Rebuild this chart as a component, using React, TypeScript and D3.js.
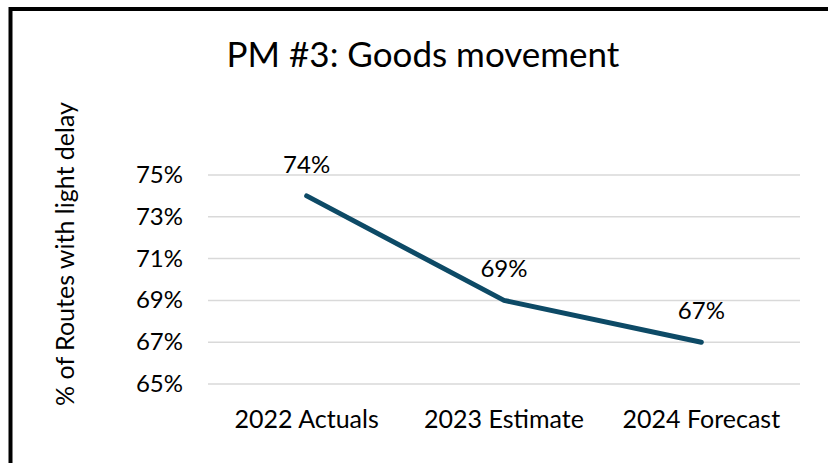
import React from "react";
import * as d3 from "d3";

const categories = ["2022 Actuals", "2023 Estimate", "2024 Forecast"];
const values = [74, 69, 67];
const yTicks = [65, 67, 69, 71, 73, 75];
const title = "PM #3: Goods movement";
const yTitle = "% of Routes with light delay";

const W = 828;
const H = 463;
const FONT = "Lato, 'Open Sans', sans-serif";

export default function App() {
  const x = d3.scaleBand<string>().domain(categories).range([208, 800]);
  const y = d3.scaleLinear().domain([65, 75]).range([384, 175]);
  const cx = (i: number) => (x(categories[i]) as number) + x.bandwidth() / 2;
  const line = d3
    .line<number>()
    .x((_, i) => cx(i))
    .y((d) => y(d));

  return (
    <div style={{ position: "fixed", left: 0, top: 0 }}>
      <svg width={W} height={H} style={{ display: "block", background: "#fff" }}>
        <rect x={0} y={0} width={W} height={H} fill="#fff" />
        <rect x={10.5} y={9} width={W + 20} height={H + 20} fill="none" stroke="#000" strokeWidth={4} />
        <text x={423} y={67} textAnchor="middle" fontFamily={FONT} fontSize={35} fill="#000">
          {title}
        </text>
        <text
          transform={`translate(74,${254}) rotate(-90)`}
          textAnchor="middle"
          fontFamily={FONT}
          fontSize={25}
          fill="#000"
        >
          {yTitle}
        </text>
        {yTicks.map((t) => (
          <g key={t}>
            <line x1={208} x2={800} y1={y(t)} y2={y(t)} stroke="#d9d9d9" strokeWidth={1.5} />
            <text x={183} y={y(t) + 8} textAnchor="end" fontFamily={FONT} fontSize={24} fill="#000">
              {t}%
            </text>
          </g>
        ))}
        {categories.map((c, i) => (
          <text key={c} x={cx(i)} y={428} textAnchor="middle" fontFamily={FONT} fontSize={25} fill="#000">
            {c}
          </text>
        ))}
        <path
          d={line(values) || ""}
          fill="none"
          stroke="#0d4a66"
          strokeWidth={5}
          strokeLinecap="round"
          strokeLinejoin="round"
        />
        {values.map((v, i) => (
          <text key={i} x={cx(i)} y={y(v) - 23} textAnchor="middle" fontFamily={FONT} fontSize={24} fill="#000">
            {v}%
          </text>
        ))}
      </svg>
    </div>
  );
}
